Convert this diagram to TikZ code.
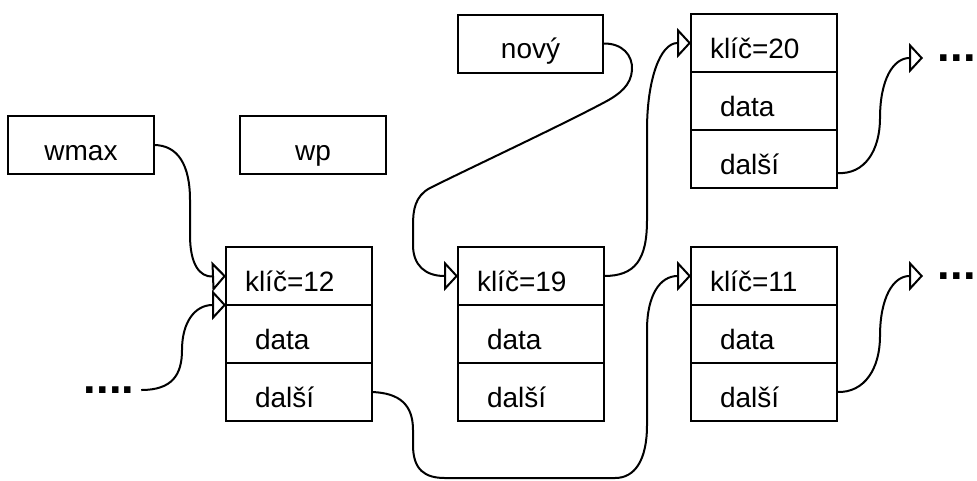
\documentclass[tikz,border=0pt]{standalone}
\usepackage{fontspec}
\setmainfont{Liberation Sans}
\usetikzlibrary{positioning,arrows.meta}

\tikzset{
  box/.style={draw, line width=1.5pt, minimum width=109pt, minimum height=43.5pt,
    inner sep=0pt, outer sep=0pt, text height=22.5pt, text depth=0pt,
    font=\fontsize{21}{25}\selectfont},
  keyrow/.style={box, minimum width=109.5pt, text width=81pt, inner xsep=14.25pt, align=left},
  datarow/.style={box, minimum width=109.5pt, text width=66pt, inner xsep=21.75pt, align=left},
  more/.style={inner xsep=5pt, inner ysep=0pt, font=\fontsize{34}{40}\selectfont\bfseries},
  ptr/.style={line width=1.5pt, -{Triangle[open, length=10.5pt, width=22.5pt]}},
}

\begin{document}
\begin{tikzpicture}[x=0.75pt, y=-0.75pt]
  \useasboundingbox (0,0) rectangle (977,480);
  % pointer variables
  \node[box] (wmax) at (81,145) {wmax};
  \node[box] (wp) at (313,145) {wp};
  \node[box] (novy) at (530.5,43.5) {nový};
  % records
  \node[keyrow, anchor=north west] (key12) at (226,247) {klíč=12};
  \node[datarow, below=0pt of key12] (data12) {data};
  \node[datarow, below=0pt of data12] (next12) {další};
  \node[keyrow, anchor=north west] (key19) at (458,247) {klíč=19};
  \node[datarow, below=0pt of key19] (data19) {data};
  \node[datarow, below=0pt of data19] (next19) {další};
  \node[keyrow, anchor=north west] (key11) at (691,247) {klíč=11};
  \node[datarow, below=0pt of key11] (data11) {data};
  \node[datarow, below=0pt of data11] (next11) {další};
  \node[keyrow, anchor=north west] (key20) at (691,14) {klíč=20};
  \node[datarow, below=0pt of key20] (data20) {data};
  \node[datarow, below=0pt of data20] (next20) {další};
  % rest of the list
  \coordinate (end20) at (923,58);
  \coordinate (end11) at (923,276);
  \node[more, right=6pt of end20] (dots20) {...};
  \node[more, right=6pt of end11] (dots11) {...};
  \node[more, anchor=west] (dots0) at (77,390) {....};
  % links
  \draw[ptr] (wmax.east) .. controls (178,145) and (190,165) .. (190,200)
    -- (190,235) .. controls (190,265) and (200,277) .. (key12.west);
  \draw[ptr] (dots0.east) .. controls (172,390) and (182,375) .. (182,350)
    .. controls (182,322) and (195,305) .. (key12.south west);
  \draw[ptr] (novy.east) .. controls (622,43) and (633,55) .. (632,70)
    .. controls (631,85) and (620,94) .. (605,102)
    .. controls (560,126) and (470,168) .. (430,188)
    .. controls (415,196) and (413,210) .. (413,225)
    -- (413,245) .. controls (413,265) and (425,276) .. (key19.west);
  \draw[ptr] (key19.east) .. controls (635,276) and (647,260) .. (647,220)
    -- (647,130) .. controls (647,80) and (660,43) .. (key20.west);
  \draw[ptr] (next12.east) .. controls (400,393) and (413,405) .. (413,430)
    -- (413,445) .. controls (413,470) and (425,478) .. (445,478)
    -- (615,478) .. controls (635,478) and (647,460) .. (647,425)
    -- (647,330) .. controls (647,295) and (660,276) .. (key11.west);
  \draw[ptr] ([yshift=-10.5pt]next20.east) .. controls (865,175) and (880,150) .. (880,118)
    .. controls (880,80) and (893,58) .. (end20);
  \draw[ptr] (next11.east) .. controls (865,393) and (880,368) .. (880,336)
    .. controls (880,298) and (893,276) .. (end11);
\end{tikzpicture}
\end{document}
